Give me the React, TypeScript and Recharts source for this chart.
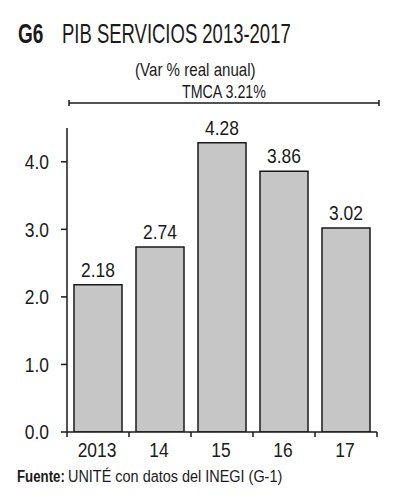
import React from "react"
import { BarChart, Bar, XAxis, YAxis, LabelList } from "recharts"

const years = ["2013", "14", "15", "16", "17"]
const growth = [2.18, 2.74, 4.28, 3.86, 3.02]
const yTicks = [0, 1, 2, 3, 4]

const data = years.map((year, i) => ({ year, value: growth[i] }))

const FONT = '"Liberation Sans", Arial, sans-serif'
const INK = "#1a1a1a"

// plot box (px)
const PLOT_LEFT = 67
const PLOT_RIGHT = 377
const BAND = (PLOT_RIGHT - PLOT_LEFT) / years.length

// the original uses a condensed grotesque, so squeeze Liberation Sans horizontally
function Narrow({ x, y, anchor = "start", dy, size = 20, sx = 0.87, bold = false, children }: any) {
  return (
    <g transform={`translate(${x},${y}) scale(${sx},1)`}>
      <text textAnchor={anchor} dy={dy} fill={INK} fontSize={size} fontFamily={FONT} fontWeight={bold ? "bold" : "normal"}>
        {children}
      </text>
    </g>
  )
}

// category label plus tick marks on the band edges
function YearTick(props: any) {
  const { x, y, payload, index } = props
  const left = x - BAND / 2
  const right = x + BAND / 2
  return (
    <g>
      <line x1={left} y1={y} x2={left} y2={y + 5} stroke={INK} strokeWidth={1.5} />
      {index === years.length - 1 && (
        <line x1={right} y1={y} x2={right} y2={y + 5} stroke={INK} strokeWidth={1.5} />
      )}
      <Narrow x={x - 1} y={y + 25} anchor="middle">{payload.value}</Narrow>
    </g>
  )
}

function ValueTick(props: any) {
  const { x, y, payload } = props
  return <Narrow x={x} y={y} anchor="end" dy="0.36em">{Number(payload.value).toFixed(1)}</Narrow>
}

function BarValue(props: any) {
  const { x, y, width, value } = props
  return <Narrow x={x + width / 2} y={y - 8} anchor="middle">{Number(value).toFixed(2)}</Narrow>
}

export default function App() {
  return (
    <div style={{ position: "absolute", left: 0, top: 0, width: 399, height: 500, background: "#fff" }}>
      <BarChart
        width={399}
        height={500}
        data={data}
        margin={{ top: 128, right: 22, bottom: 38, left: 17 }}
      >
        <XAxis
          dataKey="year"
          height={30}
          tickLine={false}
          tickSize={0}
          tickMargin={0}
          axisLine={{ stroke: INK, strokeWidth: 1.5 }}
          tick={<YearTick />}
          interval={0}
        />
        <YAxis
          width={50}
          domain={[0, 4.5]}
          ticks={yTicks}
          allowDataOverflow
          tickSize={6}
          tickMargin={12}
          axisLine={{ stroke: INK, strokeWidth: 1.5 }}
          tickLine={{ stroke: INK, strokeWidth: 1.5 }}
          tick={<ValueTick />}
        />
        <Bar dataKey="value" barSize={48} fill="#c6c6c6" stroke={INK} strokeWidth={1.5} isAnimationActive={false}>
          <LabelList dataKey="value" content={<BarValue />} />
        </Bar>
      </BarChart>

      {/* titles, TMCA bracket and source note */}
      <svg width={399} height={500} style={{ position: "absolute", left: 0, top: 0, pointerEvents: "none" }}>
        <Narrow x={18} y={43} size={28} sx={0.68} bold>G6</Narrow>
        <Narrow x={62} y={43} size={28} sx={0.66}>PIB SERVICIOS 2013-2017</Narrow>
        <Narrow x={135} y={76} size={18} sx={0.84}>(Var % real anual)</Narrow>
        <Narrow x={182} y={98} size={19} sx={0.75}>TMCA 3.21%</Narrow>
        <Narrow x={17} y={482} size={17} sx={0.78} bold>Fuente:</Narrow>
        <Narrow x={68} y={482} size={17} sx={0.85}>UNITÉ con datos del INEGI (G-1)</Narrow>
        <line x1={69} y1={103} x2={379} y2={103} stroke={INK} strokeWidth={1.5} />
        <line x1={69} y1={100} x2={69} y2={106} stroke={INK} strokeWidth={1.5} />
        <line x1={379} y1={100} x2={379} y2={106} stroke={INK} strokeWidth={1.5} />
      </svg>
    </div>
  )
}
